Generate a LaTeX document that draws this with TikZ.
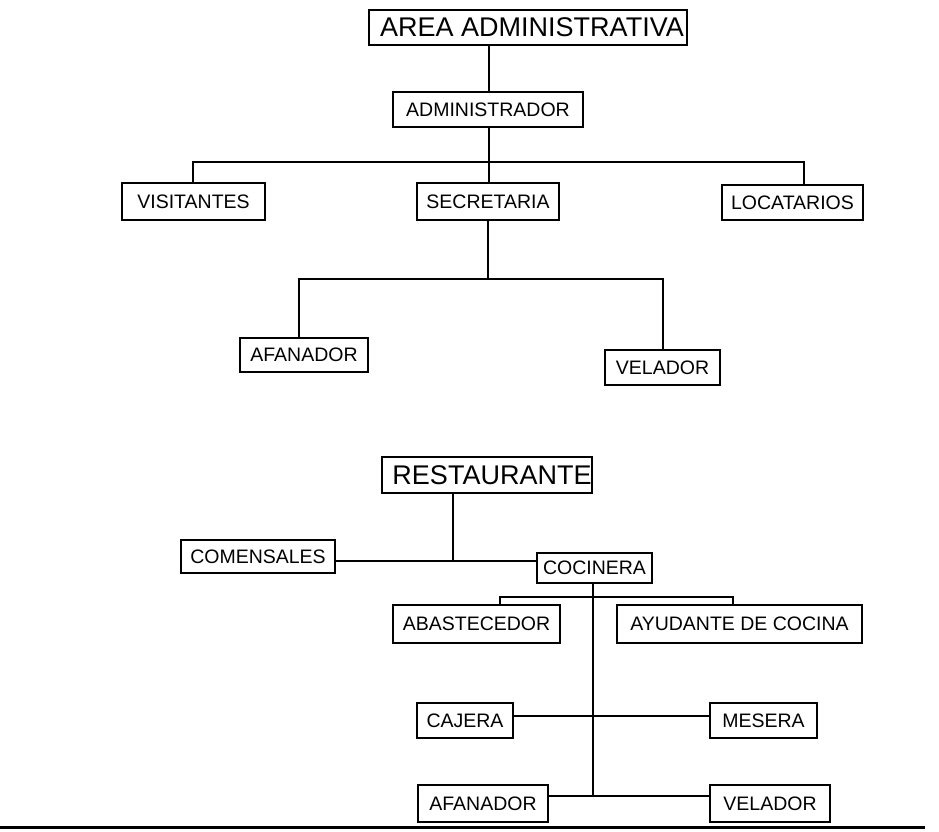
\documentclass[tikz,border=0pt]{standalone}
\usepackage{fontspec}
\setmainfont{Liberation Sans}
\begin{document}
\begin{tikzpicture}[x=1pt,y=-1pt,
  box/.style={draw, line width=1.3pt, rectangle, inner sep=0pt, font=\fontsize{19.5}{22}\selectfont},
  bigbox/.style={draw, line width=1.3pt, rectangle, inner sep=0pt, font=\fontsize{27}{30}\selectfont},
  conn/.style={line width=2.6pt, line cap=rect},
  rule/.style={line width=3pt}]
\useasboundingbox[fill=white] (0,0) rectangle (939,831);
% top tree
\node[bigbox, minimum width=318pt, minimum height=35pt] (area) at (528,27.5) {\hspace*{8pt}AREA ADMINISTRATIVA};
\node[box, minimum width=190pt, minimum height=35pt] (admin) at (488,109.5) {ADMINISTRADOR};
\node[box, minimum width=143pt, minimum height=37pt] (visit) at (193.5,201.5) {VISITANTES};
\node[box, minimum width=142pt, minimum height=37pt] (secre) at (488,201.5) {SECRETARIA};
\node[box, minimum width=141pt, minimum height=35pt] (locat) at (792.5,202.5) {LOCATARIOS};
\node[box, minimum width=128pt, minimum height=34pt] (afan1) at (304,355) {AFANADOR};
\node[box, minimum width=115pt, minimum height=35pt] (vel1) at (662.5,367.5) {VELADOR};
\coordinate (tA) at (489,162);
\coordinate (tL) at (193,162);
\coordinate (tR) at (804,162);
\coordinate (sA) at (488,279);
\coordinate (sL) at (299,279);
\coordinate (sR) at (663,279);
\draw[conn] (tA |- area.south) -- (tA |- admin.north);
\draw[conn] (tA |- admin.south) -- (tA |- secre.north);
\draw[conn] (tL) -- (tR);
\draw[conn] (tL) -- (tL |- visit.north);
\draw[conn] (tR) -- (tR |- locat.north);
\draw[conn] (sA |- secre.south) -- (sA);
\draw[conn] (sL) -- (sR);
\draw[conn] (sL) -- (sL |- afan1.north);
\draw[conn] (sR) -- (sR |- vel1.north);
% bottom tree
\node[bigbox, minimum width=210pt, minimum height=36pt] (rest) at (487,475) {\hspace*{10pt}RESTAURANTE};
\node[box, minimum width=154pt, minimum height=33pt] (comen) at (258,556.5) {COMENSALES};
\node[box, minimum width=115pt, minimum height=30pt] (cocin) at (594.5,568) {COCINERA};
\node[box, minimum width=167pt, minimum height=38pt] (abast) at (476.5,624) {ABASTECEDOR};
\node[box, minimum width=245pt, minimum height=38pt] (ayud) at (739.5,624) {AYUDANTE DE COCINA};
\node[box, minimum width=96pt, minimum height=35pt] (cajera) at (465,720.5) {CAJERA};
\node[box, minimum width=107pt, minimum height=35pt] (mesera) at (763.5,720.5) {MESERA};
\node[box, minimum width=130pt, minimum height=37pt] (afan2) at (483,803.5) {AFANADOR};
\node[box, minimum width=120pt, minimum height=37pt] (vel2) at (770,803.5) {VELADOR};
\coordinate (rJ) at (453,561);
\coordinate (cJ) at (593,796);
\coordinate (kL) at (500,597);
\coordinate (kR) at (733,597);
\coordinate (mJ) at (593,716);
\draw[conn] (rJ |- rest.south) -- (rJ);
\draw[conn] (rJ -| comen.east) -- (rJ -| cocin.west);
\draw[conn] (cJ |- cocin.south) -- (cJ);
\draw[conn] (kL) -- (kR);
\draw[conn] (kL) -- (kL |- abast.north);
\draw[conn] (kR) -- (kR |- ayud.north);
\draw[conn] (mJ -| cajera.east) -- (mJ -| mesera.west);
\draw[conn] (cJ -| afan2.east) -- (cJ -| vel2.west);
% bottom rule
\coordinate (ruleL) at (0,827);
\coordinate (ruleR) at (925,827);
\draw[rule] (ruleL) -- (ruleR);
\end{tikzpicture}
\end{document}
